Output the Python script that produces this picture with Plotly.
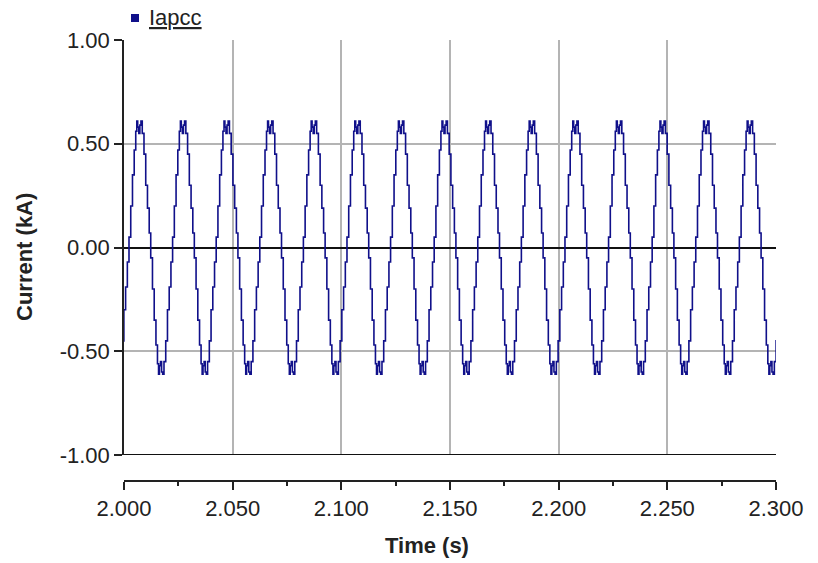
import plotly.graph_objects as go

# ---- data ----
series_name = "Iapcc"
# one cycle (50 Hz) of the stepped current, time offsets (s) from an upward zero crossing
half_cycle_offsets = [0.0000, 0.0008, 0.0016, 0.0024, 0.0031, 0.0036, 0.0040, 0.0045,
                      0.0050, 0.0055, 0.0061, 0.0069, 0.0077, 0.0085, 0.0093]
half_cycle_values = [0.05, 0.20, 0.35, 0.47, 0.56, 0.61, 0.58, 0.55,
                     0.59, 0.61, 0.55, 0.45, 0.30, 0.19, 0.07]
neg_half_values = [-0.05, -0.20, -0.35, -0.47, -0.56, -0.61, -0.57, -0.55,
                   -0.60, -0.61, -0.55, -0.45, -0.30, -0.19, -0.07]
half_period = 0.0100
cycle_starts = [1.98224, 2.00230, 2.02236, 2.04242, 2.06248, 2.08254, 2.10260, 2.12266,
                2.14272, 2.16278, 2.18284, 2.20290, 2.22296, 2.24302, 2.26308, 2.28314]
x_tick_vals = [2.000, 2.050, 2.100, 2.150, 2.200, 2.250, 2.300]
x_tick_text = ["2.000", "2.050", "2.100", "2.150", "2.200", "2.250", "2.300"]
y_tick_vals = [-1.0, -0.5, 0.0, 0.5, 1.0]
y_tick_text = ["-1.00", "-0.50", "0.00", "0.50", "1.00"]

t, v = [], []
for s in cycle_starts:
    for o, val in zip(half_cycle_offsets, half_cycle_values):
        t.append(round(s + o, 6)); v.append(val)
    for o, val in zip(half_cycle_offsets, neg_half_values):
        t.append(round(s + half_period + o, 6)); v.append(val)

FONT = "Liberation Sans, Arial, sans-serif"
TXT = "#222222"
LINE = "#10108a"
fig = go.Figure()
fig.add_trace(go.Scatter(x=t, y=v, mode="lines", line=dict(color=LINE, width=1.6, shape="hv"),
                         name=series_name, showlegend=False))

W, H = 818, 563
L, R, TOP, AX, BOT = 124, 776, 40, 481, 455   # reference pixel positions
ml, mr, mt, mb = L, W - R, TOP, H - AX
plot_w = R - L
plot_h = AX - TOP
ydom0 = (AX - BOT) / plot_h

def px(xp):
    return (xp - L) / plot_w

def py(yp):
    return (AX - yp) / plot_h

fig.update_layout(
    width=W, height=H, margin=dict(l=ml, r=mr, t=mt, b=mb),
    paper_bgcolor="white", plot_bgcolor="white",
    font=dict(family=FONT, size=22, color=TXT),
    xaxis=dict(range=[2.0, 2.3], anchor="free", position=0,
               tickvals=x_tick_vals, ticktext=x_tick_text,
               ticks="outside", ticklen=8, tickwidth=1.5, tickcolor=TXT,
               showline=True, linecolor=TXT, linewidth=1.5,
               showgrid=True, gridcolor="#b4b4b4", gridwidth=1.5, zeroline=False,
               minor=dict(dtick=0.025, tick0=2.0, ticks="outside", ticklen=4, tickwidth=1.5,
                          tickcolor=TXT, showgrid=False),
               tickfont=dict(size=22, family=FONT, color=TXT)),
    yaxis=dict(range=[-1.0, 1.0], domain=[ydom0, 1],
               tickvals=y_tick_vals, ticktext=y_tick_text,
               ticks="outside", ticklen=8, tickwidth=1.5, tickcolor=TXT,
               showline=True, linecolor=TXT, linewidth=1.5,
               showgrid=True, gridcolor="#b4b4b4", gridwidth=1.5,
               zeroline=True, zerolinecolor="#111", zerolinewidth=1.5,
               tickfont=dict(size=22, family=FONT, color=TXT)),
    shapes=[
        dict(type="line", xref="x", yref="y", x0=2.0, x1=2.3, y0=-1.0, y1=-1.0,
             line=dict(color="#111", width=2)),
        dict(type="rect", xref="paper", yref="paper",
             x0=px(131), x1=px(139), y0=py(22), y1=py(14),
             fillcolor=LINE, line=dict(width=0)),
    ],
    annotations=[
        dict(text="<u>" + series_name + "</u>", xref="paper", yref="paper",
             x=px(147), y=py(17), xanchor="left", yanchor="middle",
             showarrow=False, font=dict(size=22, family=FONT, color=TXT)),
        dict(text="<b>Time (s)</b>", xref="paper", yref="paper",
             x=px(427), y=py(545), xanchor="center", yanchor="middle",
             showarrow=False, font=dict(size=22, family=FONT, color=TXT)),
        dict(text="<b>Current (kA)</b>", xref="paper", yref="paper", textangle=-90,
             x=px(24), y=py(257), xanchor="center", yanchor="middle",
             showarrow=False, font=dict(size=22, family=FONT, color=TXT)),
    ],
)

fig.write_html("out.html", config={"displayModeBar": False},
               post_script="document.body.style.margin='0';document.body.style.overflow='hidden';")
